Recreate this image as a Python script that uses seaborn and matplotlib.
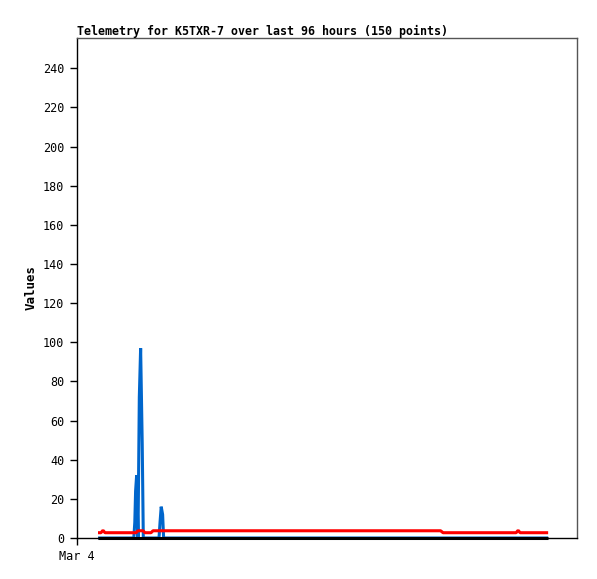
import matplotlib
matplotlib.use("Agg")
import matplotlib.pyplot as plt
import seaborn as sns
import pandas as pd

# hours since Mar 4 00:00
red_t = [4.47, 5.1, 5.53, 5.96, 12.56, 12.98, 14.05, 14.47, 15.75, 16.18,
         77.37, 77.9, 93.45, 93.87, 94.3, 100.26]
red_v = [2.7, 2.7, 3.9, 2.7, 2.7, 3.7, 3.7, 2.7, 2.7, 3.7,
         3.7, 2.7, 2.7, 3.9, 2.7, 2.7]

blue_t = [4.47, 12.09, 12.30, 12.47, 12.69, 12.98, 13.26, 13.54, 13.88, 14.11,
          17.45, 17.67, 17.92, 18.22, 18.43, 100.26]
blue_v = [0, 0, 8, 24, 32, 0, 72, 97, 48, 0,
          0, 8, 16, 12, 0, 0]

black_t = [4.47, 100.26]
black_v = [0, 0]

y_ticks = [0, 20, 40, 60, 80, 100, 120, 140, 160, 180, 200, 220, 240]
x_tick = [0]
x_tick_labels = ["Mar 4"]

sns.set_style("white")
plt.rcParams['font.family'] = ['DejaVu Sans Mono']
plt.rcParams['text.color'] = 'black'

fig = plt.figure(figsize=(5.97, 5.79), dpi=100)
ax = fig.add_axes([77 / 597, 1 - 538 / 579, 500 / 597, 500 / 579])

blue_df = pd.DataFrame({"t": blue_t, "v": blue_v})
red_df = pd.DataFrame({"t": red_t, "v": red_v})
black_df = pd.DataFrame({"t": black_t, "v": black_v})

line_kw = dict(lw=2.2, estimator=None, sort=False, clip_on=False,
               solid_joinstyle="bevel", solid_capstyle="butt")
sns.lineplot(data=blue_df, x="t", y="v", ax=ax, color="#0066cc", **line_kw)
sns.lineplot(data=red_df, x="t", y="v", ax=ax, color="#ff0000", **line_kw)
sns.lineplot(data=black_df, x="t", y="v", ax=ax, color="black", **line_kw)

ax.set_xlim(0, 106.4)
ax.set_ylim(0, 255.5)
ax.set_yticks(y_ticks)
ax.set_xticks(x_tick)
ax.set_xticklabels(x_tick_labels)
ax.tick_params(axis="both", direction="out", length=5, width=1, colors="black",
               labelsize=8.5, pad=4, left=True, bottom=True)

for side in ["top", "right"]:
    ax.spines[side].set_color("#555555")
    ax.spines[side].set_linewidth(1)
for side in ["left", "bottom"]:
    ax.spines[side].set_color("black")
    ax.spines[side].set_linewidth(1)

ax.set_xlabel("")
ax.set_ylabel("Values", fontsize=9, fontweight="bold", color="black")
ax.yaxis.set_label_coords(-0.078, 0.5)
ax.set_title("Telemetry for K5TXR-7 over last 96 hours (150 points)",
             loc="left", fontsize=8.4, fontweight="bold", pad=2, color="black")

fig.savefig("out.png", dpi=100)
